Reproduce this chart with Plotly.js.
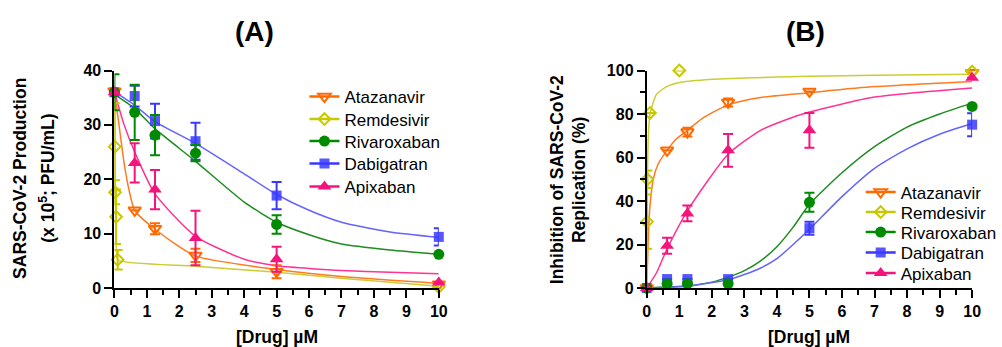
<!DOCTYPE html>
<html>
<head>
<meta charset="utf-8">
<script src="https://cdn.plot.ly/plotly-3.0.1.min.js"></script>
<style>html,body{margin:0;padding:0;background:#fff;}#chart{width:1002px;height:347px;}</style>
</head>
<body>
<div id="chart"></div>
<script>
// ---------- data ----------
const drugs = ["Atazanavir", "Remdesivir", "Rivaroxaban", "Dabigatran", "Apixaban"];
const xConc = [0, 0.625, 1.25, 2.5, 5, 10];

// Panel A: SARS-CoV-2 production (x 10^5 PFU/mL)
const ataA = [36.2, 14.3, 10.9, 6.0, 3.0, 0.7];
const ataAErr = [null, null, 1.0, 1.2, 1.2, null];
const remXA = [0.01, 0.02, 0.05, 0.1, 10];
const remA = [26, 17.6, 13.1, 5.2, 0.2];
const remAErr = [8, 2.2, 5, 1.8, null];
const rivA = [36, 32.3, 28.1, 24.8, 11.7, 6.2];
const rivAErr = [3.3, 5.1, 3.7, 1.5, 1.7, null];
const dabA = [36, 35.3, 30.7, 27.0, 17.0, 9.4];
const dabAErr = [null, 1.9, 3.2, 3.4, 2.5, 1.6];
const apiA = [36, 23.0, 18.1, 9.2, 5.3, 1.0];
const apiAErr = [null, 3.6, 3.6, 5.0, 2.3, null];

// Panel A fitted curves
const ataFitXA = [0, 0.15, 0.3, 0.45, 0.625, 1.25, 2.5, 5, 7, 10];
const ataFitA = [36.2, 29.6, 22.9, 18.0, 14.3, 10.8, 5.9, 3.4, 2.1, 0.85];
const remFitXA = [0, 0.01, 0.02, 0.04, 0.07, 0.1, 2.5, 5, 7, 10];
const remFitA = [36, 30, 20, 10, 6.2, 5.1, 4.0, 2.9, 1.8, 0.3];
const rivFitXA = [0, 0.625, 1.25, 2.5, 4, 5, 6, 7, 8.5, 10];
const rivFitA = [35.6, 33.0, 29.3, 23.3, 15.8, 12.1, 9.8, 8.1, 7.0, 6.2];
const dabFitXA = [0, 0.625, 1.25, 2.5, 4, 5, 6, 7, 8.5, 10];
const dabFitA = [36.1, 33.6, 30.6, 26.6, 21.0, 17.2, 14.3, 12.1, 10.3, 9.3];
const apiFitXA = [0, 0.3, 0.625, 1.25, 2.5, 4, 5, 6, 7, 8.5, 10];
const apiFitA = [36, 30, 25, 17.3, 9.5, 5.3, 4.1, 3.6, 3.2, 2.9, 2.6];

// Panel B: inhibition of replication (%)
const ataB = [0, 63.3, 71.7, 85.3, 90.4, 99];
const ataBErr = [null, null, 2.0, 1.8, null, null];
const remXB = [0.01, 0.02, 0.1, 1, 10];
const remB = [30.5, 50, 80.5, 100, 99.5];
const remBErr = [12.5, 4, null, null, null];
const rivB = [0, 2, 2, 2, 39.4, 83.5];
const rivBErr = [null, null, null, null, 4.4, null];
const dabB = [0, 4.1, 4.1, 4.1, 27.5, 75.1];
const dabBErr = [null, null, null, null, 3.0, 5.3];
const apiB = [0, 19.4, 34.3, 63.3, 72.5, 96.7];
const apiBErr = [null, 3.7, 3.6, 7.5, 8.0, null];

// Panel B fitted curves
const ataFitXB = [0, 0.03, 0.06, 0.1, 0.2, 0.35, 0.625, 0.92, 1.25, 1.7, 2.5, 3.5, 5, 7, 10];
const ataFitB = [0, 15, 28, 38, 50, 57, 63.3, 68.7, 72.5, 77.9, 84.2, 87.6, 89.8, 92.6, 95];
const remFitXB = [0, 0.01, 0.02, 0.05, 0.1, 0.3, 0.6, 1, 2, 3, 5, 7, 10];
const remFitB = [0, 25, 50, 70, 80, 89, 92.5, 94.5, 96, 96.6, 97.3, 97.8, 98.3];
const rivFitXB = [0, 1.25, 2, 2.5, 3, 3.5, 4, 4.5, 5, 6, 7, 8, 9, 10];
const rivFitB = [0, 1, 2.7, 5, 8, 12.5, 19, 28, 38.5, 53, 65, 74, 80, 85];
const dabFitXB = [0, 1.25, 2, 2.5, 3, 3.5, 4, 4.5, 5, 6, 7, 8, 9, 10];
const dabFitB = [0, 0.8, 2.5, 3.8, 6.2, 9.2, 13.5, 20, 27, 42, 55, 64, 70.7, 75.6];
const apiFitXB = [0, 0.3, 0.625, 1.25, 2.5, 3.5, 4.3, 5, 7, 10];
const apiFitB = [0, 7, 18, 35.5, 61.5, 72.5, 77.5, 80.9, 87.8, 92];

const xTickVals = [0,1,2,3,4,5,6,7,8,9,10];

// ---------- styles ----------
const FONT = "Arial, 'Liberation Sans', sans-serif";
const col = {
  Atazanavir: "#FF6A00", Remdesivir: "#C8C800", Rivaroxaban: "#008A00",
  Dabigatran: "#3838FF", Apixaban: "#F5147D"
};
const fitCol = {
  Atazanavir: "#FF7A20", Remdesivir: "#CCCC33", Rivaroxaban: "#1E8C1E",
  Dabigatran: "#6464FF", Apixaban: "#FF3394"
};
const sym = {
  Atazanavir: {symbol: "triangle-down-open", size: 11, line: {width: 2, color: col.Atazanavir}, color: col.Atazanavir},
  Remdesivir: {symbol: "diamond-open", size: 9, line: {width: 2, color: col.Remdesivir}, color: col.Remdesivir},
  Rivaroxaban: {symbol: "circle", size: 11, color: col.Rivaroxaban},
  Dabigatran: {symbol: "square", size: 10, color: col.Dabigatran, opacity: 0.85},
  Apixaban: {symbol: "triangle-up", size: 12, color: col.Apixaban}
};

const W = 1002, H = 347;
const px = v => v / W, py = v => 1 - v / H;

const traces = [];
function fit(x, y, name, xa, ya) {
  traces.push({x: x, y: y, xaxis: xa, yaxis: ya, mode: "lines", type: "scatter",
    line: {color: fitCol[name], width: 1.5, shape: "spline", smoothing: 0.6},
    showlegend: false, hoverinfo: "skip", cliponaxis: false});
}
function pts(x, y, err, name, xa, ya) {
  traces.push({x: x, y: y, xaxis: xa, yaxis: ya, mode: "markers", type: "scatter",
    marker: sym[name], showlegend: false, cliponaxis: false,
    error_y: {type: "data", array: err, visible: true, color: col[name], thickness: 2, width: 5}});
}
// one legend box per entry so the row spacing can follow the reference
const legendBoxes = {};
function leg(name, legendId, xa, ya, left, centerY) {
  traces.push({x: [null], y: [null], xaxis: xa, yaxis: ya,
    mode: "lines+markers", type: "scatter", name: name, legend: legendId,
    line: {color: col[name], width: 2.5}, marker: sym[name]});
  legendBoxes[legendId] = {x: px(left), y: py(centerY), xanchor: "left", yanchor: "middle",
    bgcolor: "rgba(0,0,0,0)", font: {family: FONT, size: 17, color: "#000"}, itemwidth: 30};
}

// Panel A
fit(ataFitXA, ataFitA, "Atazanavir", "x", "y");
fit(remFitXA, remFitA, "Remdesivir", "x", "y");
fit(rivFitXA, rivFitA, "Rivaroxaban", "x", "y");
fit(dabFitXA, dabFitA, "Dabigatran", "x", "y");
fit(apiFitXA, apiFitA, "Apixaban", "x", "y");
pts(xConc, dabA, dabAErr, "Dabigatran", "x", "y");
pts(xConc, ataA, ataAErr, "Atazanavir", "x", "y");
pts(remXA, remA, remAErr, "Remdesivir", "x", "y");
pts(xConc, rivA, rivAErr, "Rivaroxaban", "x", "y");
pts(xConc, apiA, apiAErr, "Apixaban", "x", "y");
// Panel B
fit(ataFitXB, ataFitB, "Atazanavir", "x2", "y2");
fit(remFitXB, remFitB, "Remdesivir", "x2", "y2");
fit(rivFitXB, rivFitB, "Rivaroxaban", "x2", "y2");
fit(dabFitXB, dabFitB, "Dabigatran", "x2", "y2");
fit(apiFitXB, apiFitB, "Apixaban", "x2", "y2");
pts(xConc, dabB, dabBErr, "Dabigatran", "x2", "y2");
pts(xConc, ataB, ataBErr, "Atazanavir", "x2", "y2");
pts(remXB, remB, remBErr, "Remdesivir", "x2", "y2");
pts(xConc, rivB, rivBErr, "Rivaroxaban", "x2", "y2");
pts(xConc, apiB, apiBErr, "Apixaban", "x2", "y2");

// legends
const legRowsA = [97, 119.5, 141.5, 164, 187];
const legRowsB = [192.5, 212.5, 232.5, 253, 273.5];
drugs.forEach((d, i) => leg(d, i === 0 ? "legend" : "legend" + (i + 1), "x", "y", 306, legRowsA[i]));
drugs.forEach((d, i) => leg(d, "legend" + (i + 6), "x2", "y2", 865, legRowsB[i]));

function xax(domain) {
  return {domain: domain, range: [0, 10], tickvals: xTickVals, ticks: "outside", ticklen: 8, tickwidth: 2,
    tickcolor: "#000", showline: true, linewidth: 2, linecolor: "#000", showgrid: false, zeroline: false,
    tickfont: {family: FONT, size: 16, color: "#000", weight: "bold"},
    minor: {dtick: 0.5, ticks: "outside", ticklen: 5, tickwidth: 2, tickcolor: "#000", showgrid: false},
    fixedrange: true};
}
function yax(range, dtick, minorDtick, anchor) {
  const a = {domain: [py(288), py(70.5)], range: range, dtick: dtick, tick0: 0, ticks: "outside", ticklen: 8,
    tickwidth: 2, tickcolor: "#000", showline: true, linewidth: 2, linecolor: "#000", showgrid: false,
    zeroline: false, anchor: anchor, tickfont: {family: FONT, size: 16, color: "#000", weight: "bold"},
    fixedrange: true};
  if (minorDtick) a.minor = {dtick: minorDtick, ticks: "outside", ticklen: 5, tickwidth: 2, tickcolor: "#000", showgrid: false};
  return a;
}

const annFont = {family: FONT, size: 17.5, color: "#000", weight: "bold"};
function ann(text, x, y, font, angle) {
  const a = {text: text, x: px(x), y: py(y), xref: "paper", yref: "paper", showarrow: false,
    xanchor: "center", yanchor: "middle", font: font};
  if (angle) a.textangle = angle;
  return a;
}
const titleFont = {family: FONT, size: 28, color: "#000", weight: "bold"};

const layout = Object.assign({
  width: W, height: H, margin: {l: 0, r: 0, t: 0, b: 0}, paper_bgcolor: "#fff", plot_bgcolor: "#fff",
  font: {family: FONT, color: "#000"},
  xaxis: xax([px(115), px(441)]),
  yaxis: yax([0, 40], 10, null, "x"),
  xaxis2: Object.assign(xax([px(650), px(977)]), {anchor: "y2"}),
  yaxis2: yax([0, 100], 20, 10, "x2"),
  annotations: [
    ann("(A)", 256, 32, titleFont),
    ann("(B)", 810, 32, titleFont),
    ann("SARS-CoV-2 Production", 20, 178, annFont, -90),
    ann("(x 10<sup>5</sup>; PFU/mL)", 47, 178, annFont, -90),
    ann("Inhibition of SARS-CoV-2", 560, 180, annFont, -90),
    ann("Replication (%)", 582, 180, annFont, -90),
    ann("[Drug] µM", 278, 337, annFont),
    ann("[Drug] µM", 813, 337, annFont)
  ]
}, legendBoxes);

Plotly.newPlot("chart", traces, layout, {displayModeBar: false, staticPlot: true});
</script>
</body>
</html>
